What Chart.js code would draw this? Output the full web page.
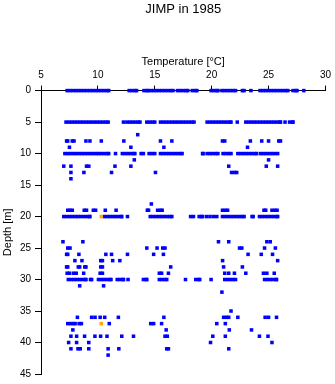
<!DOCTYPE html>
<html>
<head>
<meta charset="utf-8">
<script src="https://cdn.jsdelivr.net/npm/chart.js@4"></script>
<style>
  html, body { margin: 0; padding: 0; background: #fff; }
  #wrap { width: 335px; height: 384px; position: relative; }
</style>
</head>
<body>
<div id="wrap"><canvas id="myChart"></canvas></div>
<script>
const temps0 = [7.3, 7.55, 7.8, 8.05, 8.3, 8.55, 8.8, 9.05, 9.3, 9.55, 9.8, 10.05, 10.3, 10.55, 10.8, 10.95,
  12.75, 13.0, 13.25, 13.4, 14.05, 14.3, 14.4, 14.65, 14.9, 15.15, 15.4, 15.65, 15.9, 16.15, 16.4, 16.6,
  17.0, 17.25, 17.5, 17.75, 17.9, 18.3, 18.55, 18.7, 19.95, 20.2, 20.45, 20.55, 20.9, 21.15, 21.4, 21.65,
  21.9, 22.1, 22.7, 22.85, 23.45, 24.25, 24.5, 24.75, 25.0, 25.25, 25.5, 25.75, 26.0, 26.25, 26.5, 26.7,
  27.15, 27.4, 27.5, 28.1];
const temps5 = [7.2, 7.45, 7.7, 7.95, 8.2, 8.45, 8.7, 8.95, 9.2, 9.45, 9.7, 9.95, 10.2, 10.45, 10.7, 10.9,
  12.25, 12.55, 12.8, 13.05, 13.3, 13.55, 13.7, 14.3, 14.55, 14.8, 15.0, 15.5, 15.75, 16.0, 16.25, 16.5,
  16.75, 17.0, 17.25, 17.5, 17.75, 18.0, 18.25, 18.45, 19.6, 19.85, 20.1, 20.35, 20.6, 20.85, 21.1, 21.35,
  21.6, 21.7, 22.25, 23.0, 23.25, 23.5, 23.75, 24.0, 24.25, 24.5, 24.75, 25.0, 25.25, 25.5, 25.75, 26.0,
  26.05, 26.45, 26.85, 27.1, 27.15];
const temps7 = [13.5];
const temps8 = [7.25, 7.35, 7.75, 7.9, 8.95, 9.3, 10.3, 12.28, 15.5, 16.5, 20.95, 21.15, 23.4, 24.4, 25.0, 25.9, 26.05];
const temps9 = [7.5, 12.9, 15.8, 23.15];
const temps10 = [7.1, 7.35, 7.6, 7.85, 8.1, 8.35, 8.6, 8.85, 9.1, 9.35, 9.6, 9.85, 10.05, 10.3, 10.55, 10.8,
  10.95, 11.55, 12.15, 12.4, 12.65, 12.9, 13.15, 13.25, 13.8, 14.0, 14.5, 14.75, 15.0, 15.5, 15.75, 16.0,
  16.25, 16.5, 16.75, 17.0, 17.25, 17.4, 19.2, 19.25, 19.6, 19.85, 20.1, 20.35, 20.55, 21.0, 21.25, 21.5,
  21.7, 22.3, 22.55, 22.8, 23.05, 23.3, 23.55, 23.8, 23.95, 24.3, 24.55, 24.8, 25.05, 25.3, 25.55, 25.8];
const temps11 = [13.2, 25.0];
const temps12 = [7.0, 7.63, 9.0, 9.2, 11.5, 12.9, 21.5, 24.8, 25.8];
const temps13 = [7.63, 8.77, 11.2, 15.06, 21.75, 22.0, 22.2];
const temps14 = [7.63];
const temps18 = [14.7];
const temps19 = [7.35, 7.55, 7.75, 8.8, 9.0, 9.6, 9.8, 10.65, 11.6, 14.35, 14.45, 15.25, 15.5, 15.65,
  20.95, 21.2, 21.4, 24.6, 24.75, 25.3, 25.55, 25.75];
const temps20 = [7.0, 7.25, 7.5, 7.75, 8.0, 8.25, 8.5, 8.75, 9.0, 9.25, 9.3, 10.55, 10.8, 11.05, 11.3, 11.55,
  11.8, 12.05, 12.1, 12.6, 14.6, 14.85, 15.1, 15.35, 15.6, 15.85, 16.1, 16.35, 16.5, 18.15, 18.4, 18.9,
  19.1, 19.2, 19.55, 19.85, 20.15, 20.45, 20.95, 21.2, 21.45, 21.7, 21.95, 22.2, 22.45, 22.7, 22.85, 23.55,
  23.65, 24.2, 24.45, 24.7, 24.95, 25.2, 25.45, 25.7, 25.8];
const temps24 = [6.93, 8.68, 20.6, 21.5, 24.85, 25.15];
const temps25 = [7.35, 7.55, 14.3, 15.2, 15.7, 15.9, 22.45, 22.65, 24.65, 25.6];
const temps26 = [7.25, 7.35, 8.33, 10.7, 11.2, 12.6, 14.9, 15.76, 23.2, 24.36, 25.35];
const temps27 = [7.98, 8.6, 10.25, 10.4, 11.3, 11.93, 20.96, 25.8];
const temps28 = [7.25, 7.35, 8.28, 8.4, 8.85, 8.95, 10.25, 10.4, 16.4, 21.05, 22.7];
const temps29 = [7.3, 7.5, 7.85, 8.1, 8.75, 10.2, 10.4, 15.4, 15.6, 16.2, 21.15, 21.5, 22.0, 23.0, 24.55, 24.85, 25.5];
const temps30 = [7.4, 7.65, 7.9, 8.15, 8.4, 8.65, 8.9, 8.95, 9.35, 9.45, 10.05, 10.3, 10.55, 10.8, 11.05, 11.15,
  11.7, 11.95, 12.2, 12.25, 12.65, 14.0, 14.25, 14.3, 15.4, 15.65, 15.9, 16.05, 17.7, 18.6, 18.85, 18.95,
  19.95, 21.15, 21.4, 21.65, 21.9, 22.1, 24.65, 24.9, 25.15, 25.4, 25.65, 25.7];
const temps31 = [8.4, 10.5];
const temps32 = [20.9];
const temps35 = [21.7];
const temps36 = [8.2, 9.45, 9.75, 10.2, 10.6, 11.8, 15.8, 21.05, 21.3, 21.5, 22.3, 24.7, 25.0, 25.7];
const temps37 = [7.35, 7.6, 7.85, 8.0, 8.35, 8.55, 11.0, 14.65, 14.9, 15.6, 20.45, 21.2];
const temps38 = [7.8, 16.0, 21.55, 23.5];
const temps39 = [7.63, 8.13, 8.83, 9.74, 10.24, 10.8, 12.1, 13.13, 15.9, 16.1, 20.1, 21.2, 24.2, 24.95];
const temps40 = [7.43, 8.13, 9.2, 19.9, 25.3];
const temps41 = [7.63, 8.25, 8.45, 9.2, 10.9, 11.84, 16.05, 16.2, 21.5];
const temps42 = [10.9];

const depths = [0, 5, 7, 8, 9, 10, 11, 12, 13, 14, 18, 19, 20, 24, 25, 26, 27, 28, 29, 30, 31, 32, 35, 36, 37, 38, 39, 40, 41, 42];
const tempRows = [temps0, temps5, temps7, temps8, temps9, temps10, temps11, temps12, temps13, temps14, temps18,
  temps19, temps20, temps24, temps25, temps26, temps27, temps28, temps29, temps30, temps31, temps32, temps35,
  temps36, temps37, temps38, temps39, temps40, temps41, temps42];

// the two orange samples
const flagTemps = [10.3, 10.3];
const flagDepths = [20, 37];

const tempTicks = [5, 10, 15, 20, 25, 30];
const depthTicks = [0, 5, 10, 15, 20, 25, 30, 35, 40, 45];

const FONT = "'Liberation Sans', Arial, sans-serif";

const points = [];
depths.forEach((d, i) => tempRows[i].forEach((t) => points.push({ x: t, y: d })));
const flagged = flagTemps.map((t, i) => ({ x: t, y: flagDepths[i] }));

const ctx = document.getElementById("myChart");
new Chart(ctx, {
  type: "scatter",
  data: {
    datasets: [
      { label: "flagged", data: flagged, backgroundColor: "#ffa500", clip: false },
      { label: "samples", data: points, backgroundColor: "#0000ff", clip: false },
    ],
  },
  options: {
    responsive: true,
    maintainAspectRatio: false,
    animation: false,
    events: [],
    elements: { point: { pointStyle: "rect", radius: 2.5, borderWidth: 0 } },
    layout: { padding: { left: 0, right: 9, top: 0, bottom: 7 } },
    plugins: {
      legend: { display: false },
      tooltip: { enabled: false },
      title: {
        display: true,
        text: "JIMP in 1985",
        fullSize: false,
        color: "#000",
        font: { family: FONT, size: 13, weight: "normal" },
        padding: { top: 2, bottom: 0 },
      },
    },
    scales: {
      x: {
        type: "linear",
        position: "top",
        min: 5,
        max: 30,
        afterBuildTicks: (s) => { s.ticks = tempTicks.map((v) => ({ value: v })); },
        afterFit: (s) => { s.height = 73; },
        ticks: { color: "#000", padding: 4, maxRotation: 0, font: { family: FONT, size: 10 } },
        grid: { drawOnChartArea: false, color: "#000", tickLength: 5 },
        border: { color: "#000", width: 1 },
        title: {
          display: true,
          text: "Temperature [°C]",
          color: "#000",
          font: { family: FONT, size: 11 },
          padding: { top: 38, bottom: 0 },
        },
      },
      y: {
        type: "linear",
        reverse: true,
        min: 0,
        max: 45,
        afterBuildTicks: (s) => { s.ticks = depthTicks.map((v) => ({ value: v })); },
        afterFit: (s) => { s.width = 41; },
        ticks: { color: "#000", padding: 4, font: { family: FONT, size: 10 } },
        grid: { drawOnChartArea: false, color: "#000", tickLength: 6 },
        border: { color: "#000", width: 1 },
        title: {
          display: true,
          text: "Depth [m]",
          color: "#000",
          font: { family: FONT, size: 11 },
          padding: { top: 1, bottom: 0 },
        },
      },
    },
  },
});
</script>
</body>
</html>
